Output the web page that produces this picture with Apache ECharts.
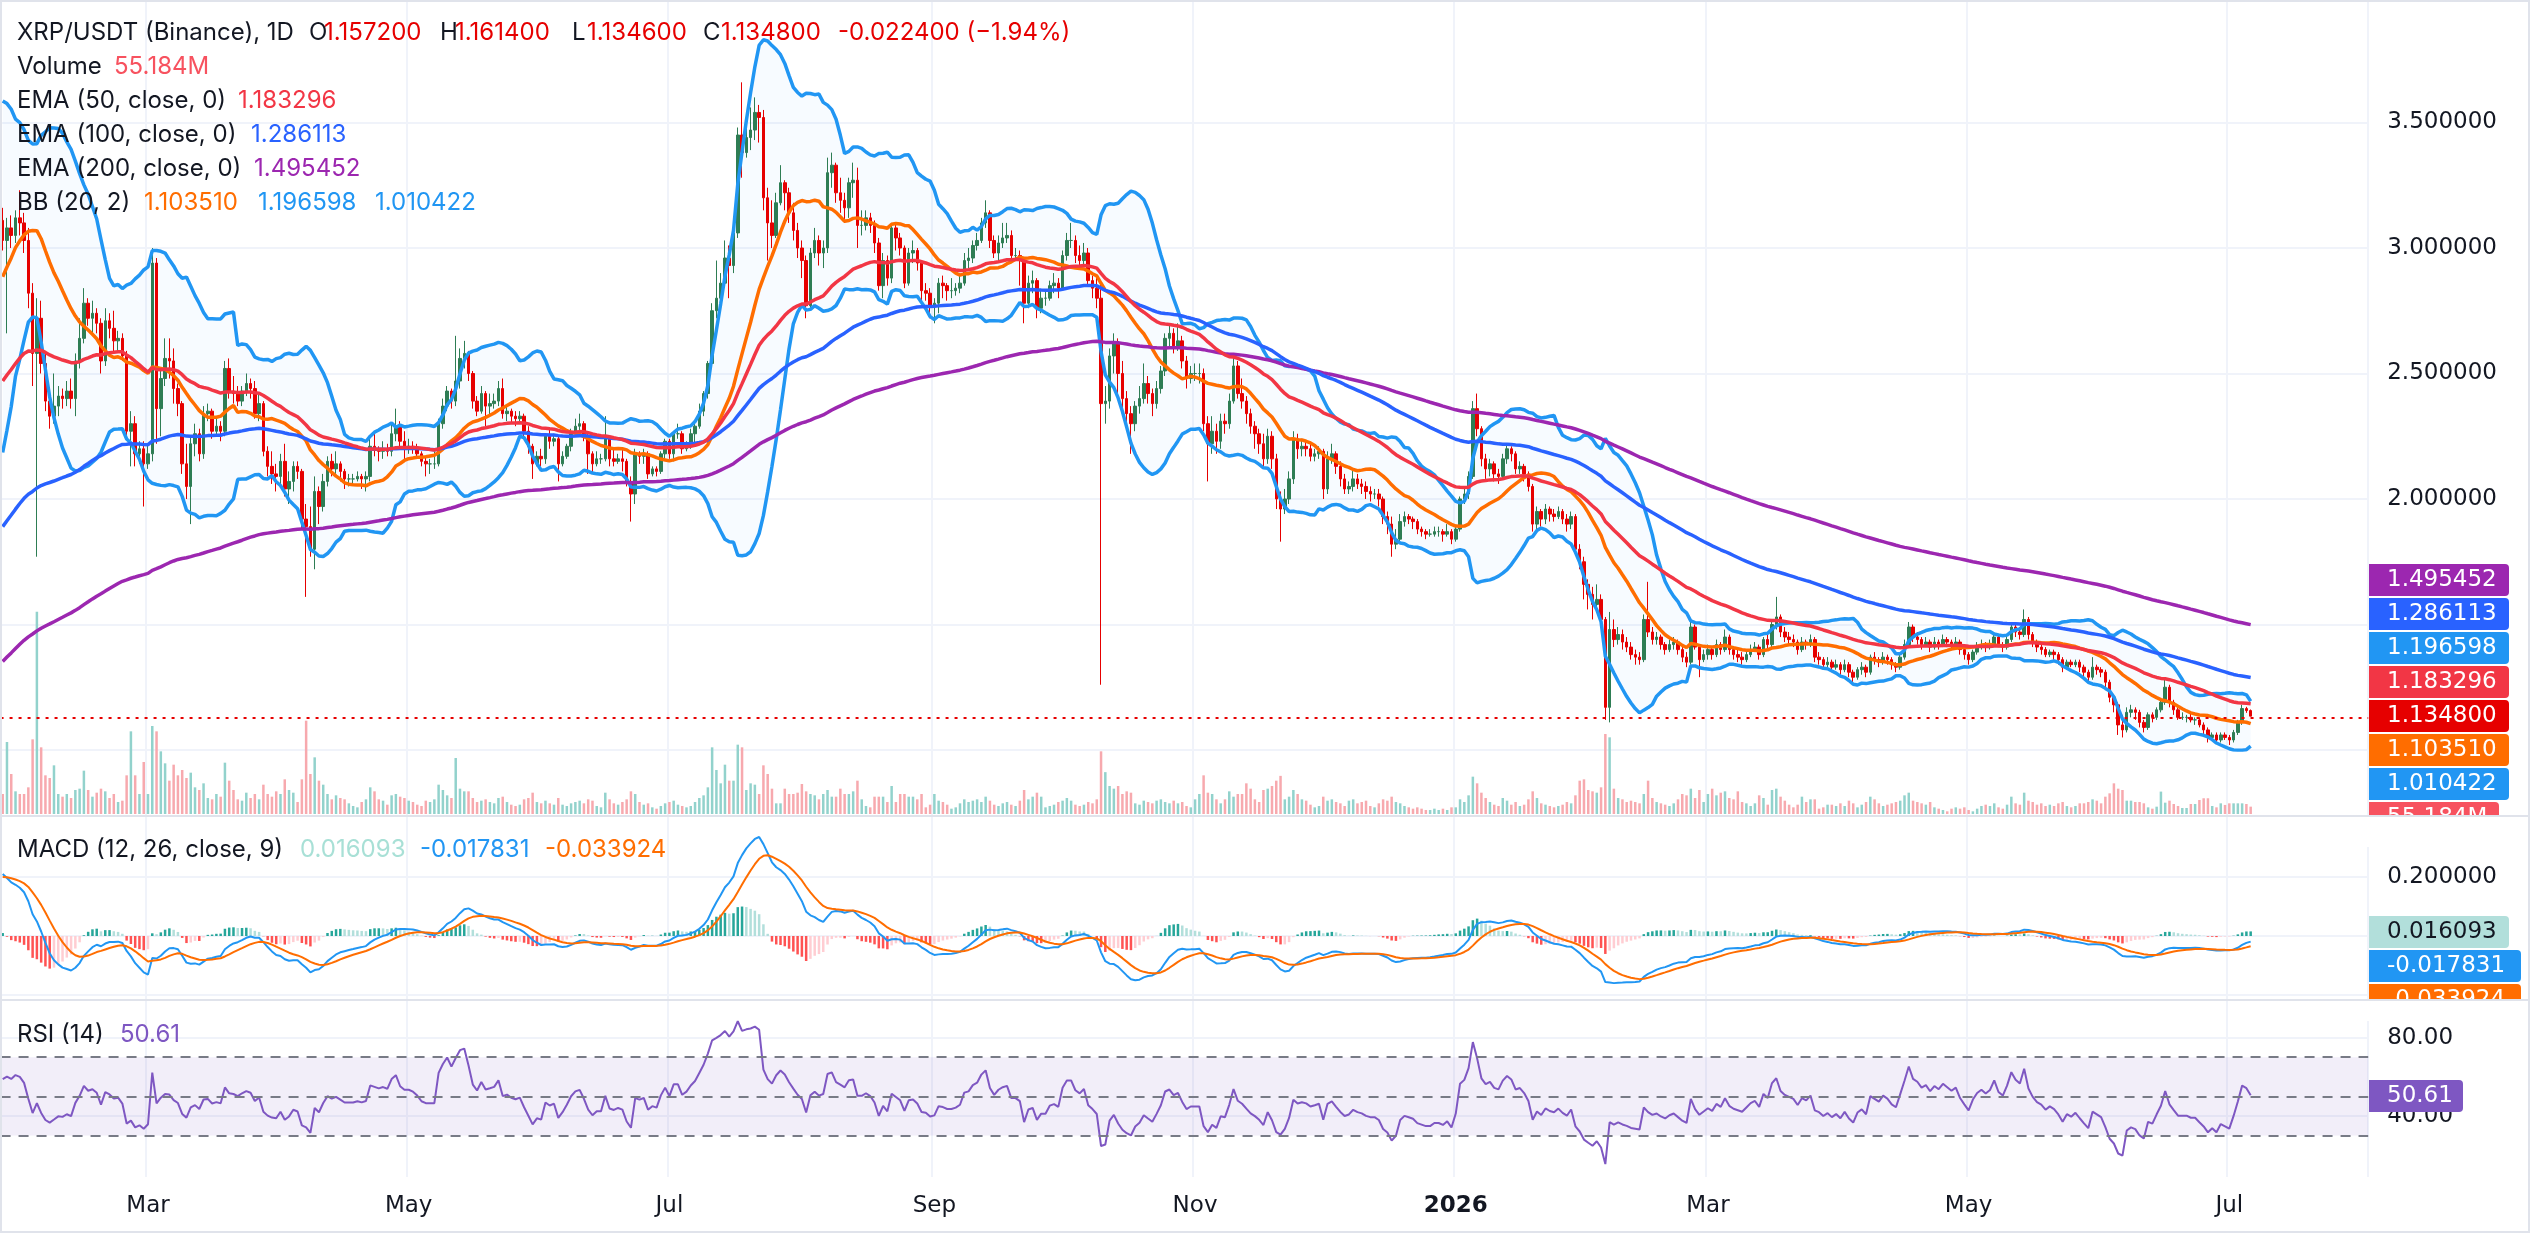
<!DOCTYPE html>
<html>
<head>
<meta charset="utf-8">
<title>XRP/USDT 1D</title>
<script src="https://cdn.jsdelivr.net/npm/echarts@6/dist/echarts.min.js"></script>
<style>
  html, body { margin: 0; padding: 0; background: #ffffff; }
  #chart { width: 2530px; height: 1253px; }
</style>
</head>
<body>
<div id="chart"></div>
<script>
// ---- data (daily candles, 2025-01-26 .. 2026-07-06) ----
var startDate = '2025-01-26';
var futureDays = 27;          // empty slots right of the last candle
var firstOpen = 3.11;

// closes before the window, only used to warm up BB(20)
var priorCloses = [2.30,2.33,2.30,2.56,2.56,2.53,2.52,2.73,3.18,3.35,3.26,3.20,3.08,3.15,3.17,3.10,3.13,3.12,3.11];

var closes = [
  3.03,3.08,3.05,3.12,3.10,3.03,
  2.82,2.58,2.72,2.54,2.39,2.33,2.37,2.41,2.40,2.43,2.40,2.55,2.64,2.78,2.72,2.74,2.70,2.55,2.71,2.68,2.63,2.64,2.57,2.27,2.30,2.18,2.20,2.14,
  2.18,2.94,2.36,2.48,2.56,2.55,2.44,2.38,2.14,2.05,2.22,2.26,2.18,2.34,2.35,2.27,2.29,2.27,2.52,2.43,2.42,2.39,2.43,2.46,2.44,2.34,2.38,2.19,2.13,2.10,2.09,
  2.15,2.04,2.07,2.13,2.11,1.92,1.89,1.80,2.03,1.97,2.07,2.15,2.12,2.14,2.11,2.08,2.08,2.08,2.09,2.08,2.09,2.21,2.20,2.19,2.20,2.19,2.26,2.29,2.23,2.21,
  2.21,2.20,2.18,2.15,2.14,2.14,2.14,2.30,2.37,2.43,2.39,2.47,2.56,2.58,2.50,2.39,2.35,2.42,2.37,2.38,2.39,2.44,2.34,2.35,2.33,2.32,2.33,2.27,2.21,2.14,2.17,
  2.16,2.25,2.23,2.24,2.14,2.17,2.21,2.26,2.29,2.30,2.25,2.18,2.14,2.16,2.16,2.24,2.16,2.15,2.16,2.15,2.07,2.02,2.18,2.17,2.18,2.10,2.12,2.11,2.18,2.23,
  2.18,2.26,2.26,2.20,2.22,2.26,2.29,2.35,2.42,2.54,2.75,2.80,2.86,2.96,2.93,3.06,3.45,3.38,3.44,3.47,3.54,3.52,3.20,3.10,3.05,3.18,3.26,3.22,3.14,3.07,3.00,
  2.95,2.77,2.98,3.03,2.98,3.00,3.30,3.33,3.22,3.19,3.16,3.26,3.27,3.09,3.09,3.12,3.09,3.02,2.85,2.95,2.88,3.08,3.04,3.00,2.86,2.98,2.99,2.94,2.83,2.82,2.77,
  2.78,2.86,2.85,2.83,2.83,2.84,2.86,2.95,2.96,3.01,3.03,3.10,3.14,3.03,2.98,3.02,3.04,3.05,2.97,2.97,2.95,2.78,2.86,2.87,2.76,2.80,2.80,2.85,2.86,2.84,
  2.97,3.03,3.03,2.97,2.95,2.98,2.87,2.84,2.80,2.38,2.39,2.57,2.62,2.50,2.40,2.34,2.30,2.37,2.40,2.46,2.42,2.38,2.44,2.51,2.64,2.66,2.61,2.63,2.55,2.48,2.50,
  2.50,2.50,2.30,2.22,2.27,2.23,2.31,2.30,2.39,2.53,2.42,2.39,2.34,2.29,2.26,2.22,2.16,2.25,2.16,2.00,1.96,2.00,2.08,2.24,2.20,2.21,2.20,2.17,2.18,2.19,
  2.04,2.16,2.18,2.13,2.08,2.04,2.05,2.08,2.06,2.05,2.03,2.02,2.02,2.00,1.93,1.90,1.82,1.84,1.91,1.93,1.92,1.91,1.88,1.87,1.86,1.86,1.87,1.87,1.86,1.87,1.84,
  1.88,2.00,2.02,2.09,2.36,2.28,2.16,2.12,2.14,2.10,2.09,2.16,2.20,2.18,2.12,2.13,2.10,2.05,1.90,1.95,1.92,1.96,1.94,1.93,1.95,1.92,1.90,1.93,1.80,1.75,1.66,
  1.62,1.58,1.60,1.52,1.17,1.48,1.44,1.46,1.43,1.41,1.38,1.37,1.36,1.52,1.47,1.44,1.45,1.42,1.40,1.42,1.43,1.40,1.37,1.35,1.49,1.41,1.36,1.38,
  1.40,1.38,1.42,1.40,1.45,1.40,1.38,1.37,1.36,1.38,1.40,1.41,1.38,1.44,1.42,1.50,1.53,1.47,1.45,1.44,1.43,1.40,1.43,1.42,1.44,1.37,1.36,1.34,1.35,1.33,1.34,
  1.32,1.34,1.31,1.29,1.32,1.33,1.31,1.37,1.36,1.35,1.37,1.36,1.34,1.33,1.37,1.42,1.49,1.45,1.44,1.42,1.43,1.41,1.43,1.42,1.44,1.43,1.42,1.43,1.40,1.38,
  1.36,1.39,1.41,1.42,1.41,1.42,1.45,1.42,1.41,1.44,1.49,1.47,1.46,1.52,1.46,1.43,1.41,1.40,1.38,1.39,1.38,1.36,1.33,1.35,1.34,1.35,1.33,1.31,1.29,1.33,1.32,
  1.31,1.27,1.21,1.18,1.10,1.08,1.15,1.16,1.15,1.11,1.09,1.14,1.13,1.16,1.19,1.25,1.19,1.16,1.13,1.13,1.13,1.12,1.12,1.10,1.08,1.05,1.06,1.04,1.06,1.05,
  1.04,1.07,1.11,1.165,1.157,1.1348
];

var highs = [
  3.16,3.12,3.13,3.15,3.23,3.14,
  3.08,2.86,2.80,2.79,2.58,2.43,2.50,2.45,2.44,2.47,2.48,2.58,2.72,2.84,2.80,2.79,2.76,2.72,2.76,2.74,2.75,2.67,2.66,2.59,2.35,2.33,2.23,2.23,
  2.22,3.00,2.96,2.52,2.64,2.64,2.60,2.46,2.39,2.22,2.25,2.30,2.28,2.37,2.38,2.36,2.33,2.31,2.55,2.56,2.49,2.45,2.45,2.50,2.48,2.47,2.42,2.39,2.21,2.19,2.14,
  2.18,2.22,2.11,2.15,2.15,2.12,1.98,1.97,2.09,2.05,2.10,2.17,2.18,2.19,2.15,2.12,2.10,2.10,2.11,2.10,2.11,2.24,2.27,2.21,2.23,2.22,2.30,2.36,2.31,2.27,
  2.24,2.23,2.22,2.19,2.17,2.16,2.19,2.32,2.40,2.45,2.44,2.65,2.60,2.63,2.59,2.51,2.41,2.45,2.43,2.42,2.42,2.47,2.48,2.37,2.36,2.35,2.35,2.34,2.29,2.22,2.19,
  2.20,2.26,2.28,2.26,2.25,2.19,2.22,2.28,2.32,2.34,2.31,2.26,2.19,2.19,2.18,2.33,2.25,2.20,2.18,2.20,2.16,2.09,2.20,2.19,2.20,2.19,2.13,2.13,2.19,2.24,
  2.24,2.27,2.30,2.27,2.23,2.28,2.31,2.38,2.43,2.55,2.78,2.95,2.90,3.03,3.01,3.10,3.48,3.66,3.52,3.56,3.60,3.57,3.55,3.24,3.19,3.22,3.33,3.27,3.24,3.18,3.10,
  3.03,2.97,3.00,3.08,3.05,3.03,3.36,3.38,3.34,3.28,3.22,3.28,3.34,3.32,3.15,3.15,3.14,3.11,3.04,2.98,2.97,3.10,3.10,3.06,3.01,3.00,3.03,3.00,2.95,2.86,2.84,
  2.80,2.88,2.89,2.86,2.88,2.86,2.89,2.98,3.00,3.03,3.06,3.12,3.19,3.15,3.05,3.05,3.10,3.10,3.07,3.00,2.99,2.96,2.89,2.91,2.88,2.83,2.83,2.87,2.90,2.88,
  2.99,3.06,3.10,3.05,3.01,3.02,3.00,2.89,2.88,2.86,2.45,2.60,2.66,2.64,2.55,2.43,2.37,2.39,2.45,2.54,2.49,2.44,2.47,2.53,2.66,2.70,2.68,2.70,2.65,2.57,2.53,
  2.54,2.54,2.52,2.33,2.33,2.30,2.34,2.34,2.42,2.58,2.55,2.48,2.41,2.36,2.31,2.28,2.26,2.28,2.27,2.18,2.03,2.04,2.11,2.27,2.26,2.24,2.23,2.22,2.20,2.21,
  2.20,2.19,2.22,2.19,2.15,2.10,2.07,2.12,2.10,2.08,2.07,2.05,2.04,2.04,2.01,1.95,1.93,1.88,1.94,1.95,1.94,1.93,1.92,1.89,1.88,1.88,1.89,1.89,1.88,1.90,1.88,
  1.89,2.01,2.04,2.11,2.39,2.42,2.29,2.18,2.16,2.15,2.12,2.18,2.22,2.21,2.19,2.15,2.14,2.11,2.06,1.97,1.96,1.98,1.97,1.96,1.97,1.96,1.94,1.95,1.94,1.82,1.77,
  1.68,1.65,1.66,1.62,1.53,1.55,1.52,1.49,1.48,1.45,1.43,1.40,1.39,1.54,1.67,1.49,1.47,1.46,1.43,1.44,1.45,1.44,1.41,1.39,1.51,1.50,1.42,1.40,
  1.42,1.41,1.44,1.43,1.48,1.46,1.41,1.40,1.39,1.40,1.42,1.43,1.42,1.45,1.46,1.52,1.61,1.54,1.49,1.47,1.46,1.44,1.45,1.44,1.46,1.45,1.39,1.37,1.37,1.36,1.36,
  1.35,1.36,1.35,1.32,1.33,1.35,1.34,1.38,1.39,1.37,1.39,1.38,1.37,1.35,1.38,1.44,1.51,1.50,1.47,1.45,1.45,1.44,1.45,1.44,1.46,1.45,1.44,1.45,1.44,1.41,
  1.39,1.40,1.43,1.44,1.43,1.44,1.47,1.46,1.43,1.46,1.51,1.50,1.49,1.56,1.53,1.47,1.44,1.42,1.41,1.40,1.40,1.39,1.37,1.36,1.36,1.36,1.36,1.34,1.32,1.37,1.34,
  1.33,1.32,1.28,1.22,1.19,1.14,1.17,1.18,1.17,1.16,1.12,1.15,1.15,1.17,1.20,1.29,1.26,1.20,1.17,1.15,1.14,1.15,1.13,1.13,1.11,1.09,1.07,1.07,1.07,1.07,
  1.06,1.08,1.12,1.18,1.172,1.1614
];

var lows = [
  2.99,2.66,3.00,3.02,3.05,2.98,
  2.76,2.45,1.77,2.50,2.35,2.28,2.30,2.33,2.36,2.37,2.36,2.33,2.52,2.62,2.69,2.66,2.66,2.50,2.53,2.64,2.58,2.59,2.55,2.24,2.13,2.13,2.14,1.97,
  2.12,2.15,2.22,2.25,2.45,2.48,2.38,2.33,2.10,2.00,1.90,2.17,2.15,2.16,2.31,2.24,2.25,2.23,2.25,2.40,2.38,2.37,2.37,2.41,2.40,2.32,2.31,2.17,2.09,2.06,2.03,
  2.06,2.01,1.98,2.03,2.08,1.88,1.61,1.77,1.72,1.90,1.95,2.05,2.09,2.10,2.07,2.04,2.05,2.06,2.07,2.04,2.03,2.07,2.17,2.15,2.16,2.17,2.17,2.23,2.21,2.15,
  2.18,2.18,2.17,2.13,2.09,2.10,2.12,2.13,2.28,2.35,2.36,2.37,2.44,2.52,2.47,2.36,2.33,2.34,2.29,2.33,2.36,2.37,2.32,2.31,2.30,2.29,2.30,2.25,2.18,2.08,2.13,
  2.13,2.14,2.20,2.21,2.07,2.13,2.16,2.19,2.25,2.27,2.23,2.10,2.10,2.13,2.14,2.15,2.13,2.13,2.14,2.11,2.05,1.91,1.98,2.14,2.14,2.08,2.09,2.09,2.10,2.16,
  2.16,2.15,2.24,2.18,2.19,2.20,2.22,2.28,2.33,2.40,2.52,2.72,2.75,2.85,2.80,2.90,3.04,3.28,3.36,3.39,3.43,3.42,3.15,2.95,3.00,3.04,3.17,3.15,3.10,3.03,2.96,
  2.88,2.72,2.75,2.96,2.93,2.92,2.98,3.24,3.18,3.14,3.10,3.12,3.20,3.00,3.05,3.07,3.06,2.98,2.83,2.80,2.85,2.86,2.99,2.97,2.84,2.85,2.94,2.91,2.79,2.79,2.72,
  2.70,2.74,2.80,2.79,2.80,2.81,2.82,2.85,2.92,2.94,2.99,3.02,3.08,3.00,2.96,2.95,3.00,3.02,2.95,2.95,2.85,2.70,2.76,2.82,2.72,2.74,2.77,2.79,2.82,2.80,
  2.83,2.95,3.00,2.94,2.92,2.93,2.85,2.80,2.76,1.26,2.30,2.36,2.50,2.40,2.36,2.28,2.18,2.27,2.34,2.38,2.38,2.33,2.36,2.42,2.49,2.60,2.58,2.59,2.52,2.44,2.46,
  2.47,2.46,2.27,2.07,2.18,2.18,2.20,2.26,2.28,2.38,2.40,2.36,2.30,2.26,2.20,2.18,2.12,2.14,2.12,1.96,1.83,1.94,1.98,2.06,2.16,2.17,2.17,2.15,2.15,2.16,
  2.00,2.02,2.14,2.10,2.05,2.02,2.02,2.03,2.04,2.02,2.00,1.99,2.00,1.97,1.90,1.86,1.77,1.80,1.83,1.89,1.90,1.88,1.86,1.85,1.84,1.85,1.85,1.85,1.83,1.85,1.82,
  1.83,1.87,1.98,2.00,2.08,2.25,2.13,2.08,2.09,2.07,2.06,2.08,2.14,2.15,2.10,2.10,2.07,2.03,1.87,1.88,1.89,1.90,1.91,1.91,1.92,1.90,1.87,1.88,1.78,1.72,1.60,
  1.56,1.52,1.55,1.49,1.12,1.11,1.41,1.42,1.40,1.39,1.36,1.34,1.34,1.35,1.45,1.42,1.42,1.40,1.38,1.39,1.40,1.38,1.35,1.33,1.34,1.40,1.29,1.35,
  1.36,1.36,1.37,1.38,1.39,1.38,1.36,1.35,1.34,1.35,1.37,1.39,1.36,1.37,1.40,1.41,1.48,1.45,1.43,1.42,1.41,1.38,1.39,1.40,1.41,1.35,1.34,1.32,1.33,1.31,1.32,
  1.30,1.31,1.29,1.27,1.28,1.30,1.29,1.30,1.34,1.33,1.34,1.34,1.32,1.31,1.32,1.36,1.41,1.43,1.42,1.40,1.41,1.39,1.40,1.40,1.41,1.41,1.40,1.41,1.38,1.36,
  1.34,1.35,1.38,1.40,1.39,1.40,1.41,1.41,1.39,1.40,1.43,1.45,1.44,1.45,1.44,1.41,1.39,1.38,1.37,1.37,1.36,1.34,1.31,1.32,1.33,1.33,1.31,1.29,1.27,1.28,1.30,
  1.29,1.25,1.19,1.15,1.06,1.05,1.07,1.13,1.12,1.09,1.07,1.08,1.11,1.12,1.15,1.18,1.17,1.14,1.12,1.12,1.11,1.11,1.10,1.09,1.06,1.03,1.04,1.03,1.03,1.04,
  1.02,1.03,1.06,1.10,1.148,1.1346
];

// volume, millions of XRP
var volumes = [
  150,540,300,170,150,150,
  200,560,1517,500,290,270,365,150,130,150,120,180,190,325,180,130,160,190,170,120,150,90,100,290,620,290,150,390,
  150,660,620,470,380,250,370,290,330,270,310,200,180,230,120,110,150,130,385,250,180,110,100,160,120,150,110,220,150,130,170,
  150,260,180,160,90,260,700,300,425,250,220,150,110,140,120,110,80,60,50,90,110,200,170,110,100,70,140,150,130,120,
  100,90,70,60,100,90,110,220,180,140,120,420,190,170,170,120,90,100,110,90,80,120,130,90,70,60,70,110,120,160,90,
  80,100,80,70,120,70,60,80,90,100,80,110,100,60,50,160,110,80,70,90,110,170,150,90,70,80,50,40,60,80,
  90,100,70,60,50,60,90,120,140,200,500,330,230,370,250,250,520,500,180,230,220,150,365,300,190,80,80,190,150,150,160,
  225,170,150,140,110,150,180,130,130,190,150,150,170,250,110,60,50,130,130,130,90,210,90,150,150,130,130,110,150,50,70,
  150,100,90,70,40,50,80,110,90,100,110,90,130,100,70,60,80,90,70,60,100,180,110,130,160,130,50,60,70,90,
  100,120,100,70,60,70,90,80,110,470,314,210,190,210,150,170,160,80,70,100,90,80,100,110,90,80,100,80,90,60,50,
  110,150,290,160,150,110,80,110,170,130,150,150,230,190,110,90,180,190,210,250,286,110,130,180,150,110,100,70,50,60,
  130,100,110,90,80,60,100,110,80,90,100,60,50,80,110,100,130,90,80,60,50,40,50,40,30,30,40,30,40,30,50,
  50,110,90,140,280,230,160,120,90,70,60,120,100,70,90,60,70,110,170,120,80,70,60,50,60,70,90,80,140,250,260,
  180,170,160,200,600,575,190,120,110,90,100,90,80,150,250,120,90,80,70,60,80,110,150,140,190,120,180,90,
  150,190,140,160,170,120,110,170,90,80,60,80,140,120,70,180,190,130,100,70,50,70,130,90,110,110,40,50,70,70,60,
  80,60,100,80,50,70,90,130,110,80,60,70,80,90,100,140,160,100,90,80,70,90,50,40,30,20,40,50,40,50,
  30,20,40,60,70,60,80,50,40,70,130,80,70,160,100,90,70,80,60,70,60,80,90,60,50,60,80,80,90,110,100,
  80,130,155,230,190,180,100,100,90,90,80,50,40,55,168,85,100,75,60,45,45,75,75,105,118,118,60,50,80,68,
  80,80,80,80,75,55.184
];

// indicator states at the first candle at the left edge
var emaSeed50 = 2.47, emaSeed100 = 1.89, emaSeed200 = 1.353;
var macdSeedFast = 3.05, macdSeedSlow = 2.84, macdSeedSignal = 0.20;
var rsiSeedGain = 0.070, rsiSeedLoss = 0.049;

// legend / scale texts
var ohlcText = ['1.157200', '1.161400', '1.134600', '1.134800'];
var changeText = '-0.022400 (\u22121.94%)';
var volumeText = '55.184M';
var emaText = ['1.183296', '1.286113', '1.495452'];
var bbText = ['1.103510', '1.196598', '1.010422'];
var macdText = ['0.016093', '-0.017831', '-0.033924'];
var rsiText = '50.61';
var monthNames = ['Jan','Feb','Mar','Apr','May','Jun','Jul','Aug','Sep','Oct','Nov','Dec'];

// ---- build ----
var FONT = 'DejaVu Sans';      // price / time scales
var LFONT = 'Inter';           // legend rows
var TXT = '#131722';
var UP = '#2e7d54', DOWN = '#e60000';

var n = closes.length;
var dates = [];
var t0 = new Date(startDate + 'T00:00:00Z').getTime();
for (var i = 0; i < n + futureDays; i++) {
  dates.push(new Date(t0 + i * 86400000).toISOString().slice(0, 10));
}

var opens = closes.map(function (c, i) { return i === 0 ? firstOpen : closes[i - 1]; });
var candleData = closes.map(function (c, i) { return [opens[i], c, lows[i], highs[i]]; });

function emaFrom(src, len, seed) {
  var k = 2 / (len + 1), out = [], e = seed;
  for (var i = 0; i < src.length; i++) {
    if (i > 0) e = e + k * (src[i] - e);
    out.push(e);
  }
  return out;
}
var ema50 = emaFrom(closes, 50, emaSeed50);
var ema100 = emaFrom(closes, 100, emaSeed100);
var ema200 = emaFrom(closes, 200, emaSeed200);

// Bollinger (20, 2)
var allCloses = priorCloses.concat(closes);
var bbMid = [], bbUp = [], bbLow = [], bbWidth = [];
for (var i = 0; i < n; i++) {
  var w = allCloses.slice(i, i + 20);
  var m = w.reduce(function (a, b) { return a + b; }, 0) / w.length;
  var v = w.reduce(function (a, b) { return a + (b - m) * (b - m); }, 0) / w.length;
  var sd = Math.sqrt(v);
  bbMid.push(m); bbUp.push(m + 2 * sd); bbLow.push(m - 2 * sd); bbWidth.push(4 * sd);
}

// MACD (12, 26, 9)
var fast = emaFrom(closes, 12, macdSeedFast);
var slow = emaFrom(closes, 26, macdSeedSlow);
var macd = fast.map(function (f, i) { return f - slow[i]; });
var signal = emaFrom(macd, 9, macdSeedSignal);
var hist = macd.map(function (m, i) { return m - signal[i]; });
var histData = hist.map(function (h, i) {
  var prev = i > 0 ? hist[i - 1] : h;
  var col = h >= 0 ? (h >= prev ? '#26a69a' : '#b2dfdb') : (h < prev ? '#ff5252' : '#ffcdd2');
  return { value: h, itemStyle: { color: col } };
});

// RSI (14)
var rsi = [], g = rsiSeedGain, l = rsiSeedLoss;
for (var i = 0; i < n; i++) {
  if (i > 0) {
    var ch = closes[i] - closes[i - 1];
    g = (g * 13 + Math.max(ch, 0)) / 14;
    l = (l * 13 + Math.max(-ch, 0)) / 14;
  }
  rsi.push(100 - 100 / (1 + g / l));
}

var volData = volumes.map(function (v, i) {
  return { value: v, itemStyle: { color: closes[i] >= opens[i] ? '#92d2cc' : '#f7a9ae' } };
});

// ---- layout ----
var PL = 0.56, PR = 161.8;
function near(a, b) { return Math.abs(a - b) < 1e-6; }
function isTickDay(val) {
  var mm = val.slice(5, 7);
  return val.slice(8) === '01' && ['01', '03', '05', '07', '09', '11'].indexOf(mm) >= 0;
}
function hiddenX(gi) {
  return {
    type: 'category', gridIndex: gi, data: dates, boundaryGap: true,
    axisLine: { show: false }, axisTick: { show: false }, axisLabel: { show: false }, splitLine: { show: false }
  };
}
var axisFont = { fontFamily: FONT, fontSize: 23, color: TXT };

function t(x, y, text, color, size) {
  return { type: 'text', x: x, y: y, z: 50, silent: true,
    style: { text: text, fill: color, font: size + 'px "' + LFONT + '"',
             textVerticalAlign: 'middle', verticalAlign: 'middle' } };
}
function tag(cy, w, text, bg, fg) {
  return [
    { type: 'rect', z: 60, silent: true, shape: { x: 2369, y: cy - 16, width: w, height: 32, r: [0, 4, 4, 0] }, style: { fill: bg } },
    { type: 'text', z: 61, silent: true, x: 2387, y: cy,
      style: { text: text, fill: fg || '#ffffff', font: '23px "' + FONT + '"', textVerticalAlign: 'middle', verticalAlign: 'middle' } }
  ];
}

var LS = 24;
var graphics = [
  t(17, 33, 'XRP/USDT (Binance), 1D', TXT, LS),
  t(309, 33, 'O', TXT, LS), t(324, 33, ohlcText[0], DOWN, LS),
  t(440, 33, 'H', TXT, LS), t(455, 33, ohlcText[1], DOWN, LS),
  t(572, 33, 'L', TXT, LS), t(587, 33, ohlcText[2], DOWN, LS),
  t(703, 33, 'C', TXT, LS), t(721, 33, ohlcText[3], DOWN, LS),
  t(838, 33, changeText, DOWN, LS),
  t(17, 67, 'Volume', TXT, LS), t(114, 67, volumeText, '#f7525f', LS),
  t(17, 101, 'EMA (50, close, 0)', TXT, LS), t(238, 101, emaText[0], '#f23645', LS),
  t(17, 135, 'EMA (100, close, 0)', TXT, LS), t(251, 135, emaText[1], '#2962ff', LS),
  t(17, 169, 'EMA (200, close, 0)', TXT, LS), t(254, 169, emaText[2], '#9c27b0', LS),
  t(17, 203, 'BB (20, 2)', TXT, LS), t(144, 203, bbText[0], '#ff6d00', LS),
  t(258, 203, bbText[1], '#2196f3', LS), t(375, 203, bbText[2], '#2196f3', LS),
  t(17, 850, 'MACD (12, 26, close, 9)', TXT, LS), t(300, 850, macdText[0], '#a8e0d6', LS),
  t(420, 850, macdText[1], '#2196f3', LS), t(545, 850, macdText[2], '#ff6d00', LS),
  t(17, 1035, 'RSI (14)', TXT, LS), t(120, 1035, rsiText, '#7e57c2', LS)
];
graphics = graphics
  .concat(tag(580, 140, emaText[2], '#9c27b0'))
  .concat(tag(614, 140, emaText[1], '#2962ff'))
  .concat(tag(648, 140, bbText[1], '#2196f3'))
  .concat(tag(682, 140, emaText[0], '#f23645'))
  .concat(tag(716, 140, ohlcText[3], DOWN))
  .concat(tag(750, 140, bbText[0], '#ff6d00'))
  .concat(tag(784, 140, bbText[2], '#2196f3'))
  .concat(tag(818, 130, volumeText, '#f7525f'))
  .concat(tag(932, 140, macdText[0], '#b2dfdb', TXT))
  .concat(tag(966, 152, macdText[1], '#2196f3'))
  .concat(tag(1000, 152, macdText[2], '#ff6d00'))
  .concat(tag(1096, 94, rsiText, '#7e57c2'));
graphics.push(
  { type: 'rect', z: 62, silent: true, shape: { x: 2366, y: 817, width: 164, height: 30 }, style: { fill: '#ffffff' } },
  { type: 'rect', z: 62, silent: true, shape: { x: 2366, y: 1001, width: 164, height: 20 }, style: { fill: '#ffffff' } },
  { type: 'line', z: 63, silent: true, shape: { x1: 0, y1: 816, x2: 2530, y2: 816 }, style: { stroke: '#e0e3eb', lineWidth: 2 } },
  { type: 'line', z: 63, silent: true, shape: { x1: 0, y1: 1000, x2: 2530, y2: 1000 }, style: { stroke: '#e0e3eb', lineWidth: 2 } },
  { type: 'rect', z: 63, silent: true, shape: { x: 1, y: 1, width: 2528, height: 1231 }, style: { fill: 'none', stroke: '#e0e3eb', lineWidth: 2 } }
);
if (highs.length !== n || lows.length !== n || volumes.length !== n) {
  graphics.push(t(1000, 400, 'length mismatch ' + n + ' ' + highs.length + ' ' + lows.length + ' ' + volumes.length, 'red', 40));
}

var lineBase = { type: 'line', symbol: 'none', silent: true, xAxisIndex: 0, yAxisIndex: 0, z: 4 };
function priceLine(name, data, color, width) {
  return Object.assign({}, lineBase, { name: name, data: data, lineStyle: { color: color, width: width || 3.5 } });
}

var option = {
  animation: false,
  backgroundColor: '#ffffff',
  grid: [
    { left: PL, right: PR, top: 0, height: 750 },
    { left: PL, right: PR, top: 574, height: 240 },
    { left: PL, right: PR, top: 816, height: 179 },
    { left: PL, right: PR, top: 1000, height: 194.4 },
    { left: PL, right: PR, top: 0, height: 1177 }
  ],
  xAxis: [
    hiddenX(0), hiddenX(1), hiddenX(2), hiddenX(3),
    {
      type: 'category', gridIndex: 4, data: dates, boundaryGap: true,
      axisLine: { show: false }, axisTick: { show: false },
      axisLabel: {
        show: true, margin: 18, fontFamily: FONT, fontSize: 23, color: TXT,
        interval: function (idx, val) { return isTickDay(val); },
        formatter: function (val) {
          var mm = val.slice(5, 7);
          return mm === '01' ? '{y|' + val.slice(0, 4) + '}' : monthNames[+mm - 1];
        },
        rich: { y: { fontFamily: FONT, fontSize: 23, fontWeight: 'bold', color: TXT } }
      },
      splitLine: { show: true, interval: function (idx, val) { return isTickDay(val); },
                   lineStyle: { color: '#f0f3fa', width: 2 } }
    }
  ],
  yAxis: [
    {
      type: 'value', gridIndex: 0, position: 'right', min: 1.0, max: 3.988, interval: 0.5,
      axisLine: { show: false }, axisTick: { show: false },
      axisLabel: Object.assign({ margin: 19, align: 'left',
        formatter: function (v) { return (v > 1.9 && v < 3.6) ? v.toFixed(6) : ''; } }, axisFont),
      splitLine: { show: true, showMaxLine: false, lineStyle: { color: '#f0f3fa', width: 2 } }
    },
    { type: 'value', gridIndex: 1, min: 0, max: 1800, show: false },
    {
      type: 'value', gridIndex: 2, position: 'right', min: -0.2, max: 0.4068, interval: 0.2,
      axisLine: { show: false }, axisTick: { show: false },
      axisLabel: Object.assign({ margin: 19, align: 'left',
        formatter: function (v) { return near(v, 0.2) ? '0.200000' : ''; } }, axisFont),
      splitLine: { show: true, showMaxLine: false,
        lineStyle: { color: ['#f0f3fa', '#f0f3fa', '#f0f3fa', 'rgba(0,0,0,0)', 'rgba(0,0,0,0)'], width: 2 } }
    },
    {
      type: 'value', gridIndex: 3, position: 'right', min: 0, max: 99.2, interval: 40,
      axisLine: { show: false }, axisTick: { show: false },
      axisLabel: Object.assign({ margin: 19, align: 'left',
        formatter: function (v) { return (near(v, 40) || near(v, 80)) ? v.toFixed(2) : ''; } }, axisFont),
      splitLine: { show: true, showMinLine: false, showMaxLine: false, lineStyle: { color: '#f0f3fa', width: 2 } }
    },
    { type: 'value', gridIndex: 4, show: false, min: 0, max: 1 }
  ],
  series: [
    Object.assign({}, lineBase, { name: 'bbBase', data: bbLow, stack: 'bb', z: 1, lineStyle: { opacity: 0 } }),
    Object.assign({}, lineBase, { name: 'bbFill', data: bbWidth, stack: 'bb', z: 1, lineStyle: { opacity: 0 },
      areaStyle: { color: 'rgba(33,150,243,0.05)' } }),
    {
      name: 'Volume', type: 'bar', xAxisIndex: 1, yAxisIndex: 1, data: volData, barWidth: 2.5, silent: true, z: 2
    },
    {
      name: 'XRP/USDT', type: 'candlestick', xAxisIndex: 0, yAxisIndex: 0, data: candleData, barWidth: 3, z: 3,
      itemStyle: { color: UP, color0: DOWN, borderColor: UP, borderColor0: DOWN, borderWidth: 1 },
      markLine: {
        silent: true, symbol: ['none', 'none'], label: { show: false },
        lineStyle: { color: DOWN, type: [3, 6], width: 2 },
        data: [{ yAxis: closes[n - 1] }]
      }
    },
    priceLine('BB upper', bbUp, '#2196f3'),
    priceLine('BB lower', bbLow, '#2196f3'),
    priceLine('BB basis', bbMid, '#ff6d00'),
    priceLine('EMA 200', ema200, '#9c27b0'),
    priceLine('EMA 100', ema100, '#2962ff'),
    priceLine('EMA 50', ema50, '#f23645'),
    { name: 'Histogram', type: 'bar', xAxisIndex: 2, yAxisIndex: 2, data: histData, barWidth: 2.5, silent: true, z: 2 },
    { name: 'MACD', type: 'line', xAxisIndex: 2, yAxisIndex: 2, data: macd, symbol: 'none', silent: true, z: 3,
      lineStyle: { color: '#2196f3', width: 2 } },
    { name: 'Signal', type: 'line', xAxisIndex: 2, yAxisIndex: 2, data: signal, symbol: 'none', silent: true, z: 3,
      lineStyle: { color: '#ff6d00', width: 2 } },
    {
      name: 'RSI', type: 'line', xAxisIndex: 3, yAxisIndex: 3, data: rsi, symbol: 'none', silent: true, z: 3,
      lineStyle: { color: '#7e57c2', width: 2 },
      markArea: { silent: true, itemStyle: { color: 'rgba(126,87,194,0.1)' }, data: [[{ yAxis: 70 }, { yAxis: 30 }]] },
      markLine: { silent: true, symbol: ['none', 'none'], label: { show: false },
        lineStyle: { color: '#787b86', type: [10, 8], width: 2 },
        data: [{ yAxis: 70 }, { yAxis: 50 }, { yAxis: 30 }] }
    }
  ],
  graphic: { elements: graphics }
};

var chart = echarts.init(document.getElementById('chart'), null, { width: 2530, height: 1253 });
chart.setOption(option);
</script>
</body>
</html>
